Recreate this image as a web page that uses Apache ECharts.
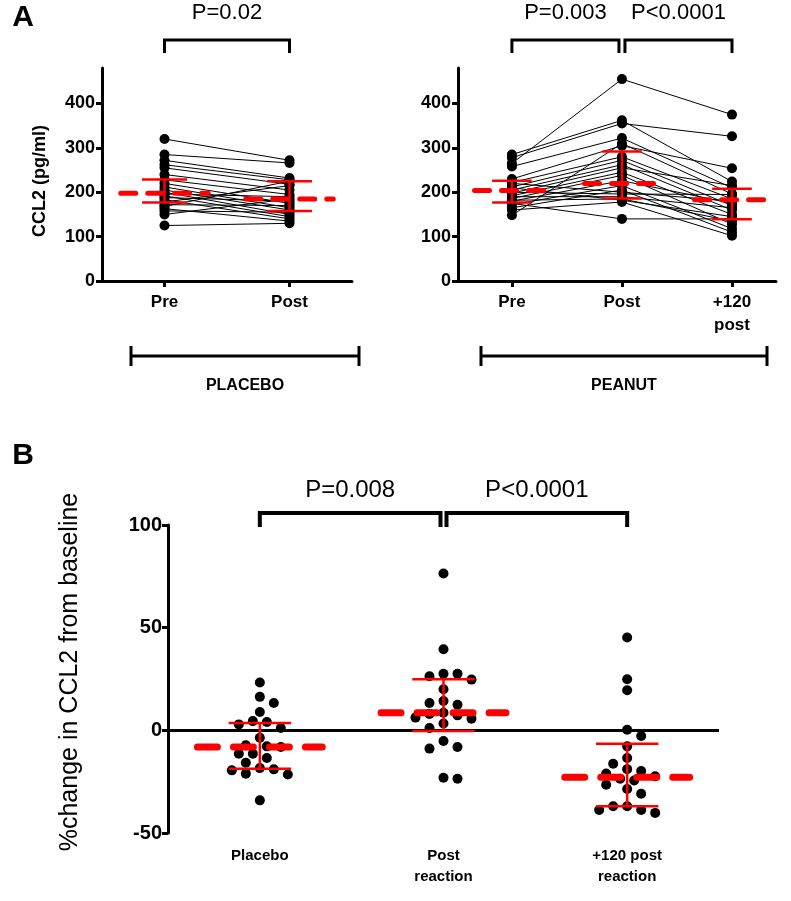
<!DOCTYPE html>
<html>
<head>
<meta charset="utf-8">
<script src="https://cdn.jsdelivr.net/npm/echarts@6/dist/echarts.min.js"></script>
<style>
  html, body { margin: 0; padding: 0; background: #fff; }
  #main { width: 791px; height: 901px; }
</style>
</head>
<body>
<div id="main"></div>
<script>
const placeboCats = ['Pre', 'Post'];
const peanutCats = ['Pre', 'Post', '+120\npost'];
const changeCats = ['Placebo', 'Post\nreaction', '+120 post\nreaction'];
const ticksA = [0, 100, 200, 300, 400];

// CCL2 (pg/ml), one entry per subject
const placeboPre = [320, 285, 272, 262, 255, 240, 228, 220, 212, 205, 200, 196, 192, 188, 183, 178, 172, 168, 163, 158, 150, 125];
const placeboPost = [272, 266, 232, 228, 218, 205, 195, 175, 165, 160, 150, 190, 145, 180, 140, 215, 170, 225, 135, 155, 185, 130];

const peanutPre = [265, 285, 278, 258, 148, 230, 222, 212, 205, 198, 192, 186, 180, 172, 165, 200, 190, 182, 210, 175, 220, 160];
const peanutPost = [455, 362, 355, 322, 310, 305, 280, 272, 262, 255, 245, 238, 226, 215, 205, 196, 190, 185, 182, 140, 200, 178];
const peanut120 = [375, 224, 326, 210, 196, 254, 185, 170, 160, 215, 150, 128, 175, 118, 110, 195, 165, 135, 145, 140, 180, 102];

// median and interquartile range per time point
const placeboMedian = [198, 185];
const placeboQ1 = [177, 158];
const placeboQ3 = [229, 225];
const peanutMedian = [204, 220, 183];
const peanutQ1 = [177, 186, 139];
const peanutQ3 = [226, 292, 208];

// % change in CCL2 from baseline
const changePlacebo = [23.3, 16.3, 13.3, 8.9, 4.1, 4.5, 2.9, 1.1, -3.6, -8.1, -7.8, -7.3, -11.4, -11.4, -13.5, -15.8, -19.0, -21.1, -21.5, -19.5, -18.4, -34.1];
const changePost = [76.4, 39.5, 26.3, 27.6, 27.6, 24.7, 20.0, 13.3, 12.5, 14.3, 7.3, 5.7, 8.6, 6.2, 3.3, 1.1, -5.2, -8.1, -8.9, -23.6, -23.1, 8.0];
const change120 = [45.2, 24.9, 19.5, 0.3, -2.8, -7.8, -13.5, -16.3, -18.9, -19.8, -24.4, -23.6, -22.4, -26.5, -28.6, -30.9, -37.0, -38.8, -40.2, -38.8, -37.0, -21.0];
const changeMedian = [-8.1, 8.6, -22.8];
const changeLow = [-18.7, -0.3, -37.0];
const changeHigh = [3.6, 24.9, -6.5];

// [label, from, to]
const pPlacebo = [['P=0.02', 0, 1]];
const pPeanut = [['P=0.003', 0, 1], ['P<0.0001', 1, 2]];
const pChange = [['P=0.008', 0, 1], ['P<0.0001', 1, 2]];

const FONT = 'Liberation Sans';
const grids = [
  { left: 102, top: 68, width: 250, height: 213 },
  { left: 458, top: 68, width: 318, height: 213 },
  { left: 168, top: 525, width: 551, height: 308 }
];
const xRange = [[-0.5, 1.5], [-0.49, 2.4], [-0.5, 2.5]];
const yRange = [[0, 480], [0, 480], [-50, 100]];

const axisLine = { show: true, lineStyle: { color: '#000', width: 3 } };
const axisTick = { show: true, length: 6, lineStyle: { color: '#000', width: 3 } };

function xAxis(i, cats, extra) {
  return Object.assign({
    type: 'value', gridIndex: i, min: xRange[i][0], max: xRange[i][1],
    splitLine: { show: false },
    axisLine: axisLine,
    axisTick: Object.assign({ customValues: cats.map((c, k) => k) }, axisTick),
    axisLabel: {
      customValues: cats.map((c, k) => k),
      formatter: v => cats[Math.round(v)],
      color: '#000', fontFamily: FONT, fontWeight: 'bold', fontSize: 17, lineHeight: 23, margin: 10
    }
  }, extra || {});
}

function yAxis(i, extra) {
  return Object.assign({
    type: 'value', gridIndex: i, min: yRange[i][0], max: yRange[i][1],
    splitLine: { show: false },
    axisLine: Object.assign({ onZero: false }, axisLine),
    axisTick: axisTick,
    axisLabel: { color: '#000', fontFamily: FONT, fontWeight: 'bold', fontSize: 20, margin: 6 }
  }, extra || {});
}

function pairedSeries(axis, cols) {
  return cols[0].map((v, s) => ({
    type: 'line', xAxisIndex: axis, yAxisIndex: axis, silent: true, z: 2,
    data: cols.map((col, k) => [k, col[s]]),
    symbol: 'circle', symbolSize: 10,
    itemStyle: { color: '#000', opacity: 1 },
    lineStyle: { color: '#000', width: 1 }
  }));
}

function summary(axis, med, lo, hi, o) {
  return {
    type: 'custom', xAxisIndex: axis, yAxisIndex: axis, z: 10, silent: true, clip: false,
    data: med.map((m, i) => [i, m, lo[i], hi[i]]),
    renderItem(params, api) {
      const x = api.value(0);
      const c = (dx, v) => api.coord([x + dx, v]);
      const seg = (a, b, w, dash) => ({
        type: 'line',
        shape: { x1: a[0], y1: a[1], x2: b[0], y2: b[1] },
        style: { stroke: '#ff0000', lineWidth: w, lineDash: dash || null, lineCap: dash ? 'round' : 'butt' }
      });
      const lo = api.value(2), hi = api.value(3), m = api.value(1);
      return {
        type: 'group', children: [
          seg(c(0, lo), c(0, hi), o.bar),
          seg(c(-o.cap, lo), c(o.cap, lo), o.bar),
          seg(c(-o.cap, hi), c(o.cap, hi), o.bar),
          seg(c(-o.half, m), c(o.half, m), o.width, o.dash)
        ]
      };
    }
  };
}

function brackets(axis, list, o) {
  const used = {};
  list.forEach(b => { used[b[1]] = (used[b[1]] || 0) + 1; used[b[2]] = (used[b[2]] || 0) + 1; });
  const ymax = yRange[axis][1];
  return {
    type: 'custom', xAxisIndex: axis, yAxisIndex: axis, silent: true, clip: false,
    data: list.map(b => [b[1], b[2]]),
    renderItem(params, api) {
      const b = list[params.dataIndex];
      const top = api.coord([b[1], ymax])[1];
      let x1 = api.coord([b[1], ymax])[0];
      let x2 = api.coord([b[2], ymax])[0];
      if (used[b[1]] > 1) x1 += 3;
      if (used[b[2]] > 1) x2 -= 3;
      const yb = top - o.rise, yd = top - o.drop;
      return {
        type: 'group', children: [
          { type: 'polyline', shape: { points: [[x1, yd], [x1, yb], [x2, yb], [x2, yd]] },
            style: { stroke: '#000', lineWidth: o.lw, fill: null } },
          { type: 'text', style: { text: b[0], x: (x1 + x2) / 2, y: top - o.textRise,
            align: 'center', verticalAlign: 'middle', fontSize: o.fs, fontFamily: FONT, fill: '#000' } }
        ]
      };
    }
  };
}

// simple beeswarm: spread points sideways so that dots do not overlap
function swarm(values, center, axis) {
  const g = grids[axis];
  const yPx = g.height / (yRange[axis][1] - yRange[axis][0]);
  const xPx = g.width / (xRange[axis][1] - xRange[axis][0]);
  const step = 7, minDist = 10.5;
  const placed = [];
  const out = [];
  let flip = 1;
  const order = values.map((v, i) => i).sort((a, b) => values[b] - values[a]);
  order.forEach(i => {
    const y = values[i] * yPx;
    const free = dx => placed.every(p => Math.hypot(p[0] - dx, p[1] - y) >= minDist);
    for (let k = 0; k < 60; k++) {
      let dx = null;
      if (k === 0) {
        if (free(0)) dx = 0;
      } else if (free(flip * k * step)) {
        dx = flip * k * step;
      } else if (free(-flip * k * step)) {
        dx = -flip * k * step;
      }
      if (dx !== null) {
        if (dx !== 0) flip = -flip;
        placed.push([dx, y]);
        out.push([center + dx / xPx, values[i]]);
        break;
      }
    }
  });
  return out;
}

const myChart = echarts.init(document.getElementById('main'));

const tickLabelA = { customValues: ticksA, color: '#000', fontFamily: FONT, fontWeight: 'bold', fontSize: 18, margin: 7 };

const option = {
  animation: false,
  backgroundColor: '#fff',
  grid: grids,
  xAxis: [
    xAxis(0, placeboCats),
    xAxis(1, peanutCats),
    xAxis(2, changeCats, {
      axisLine: { show: false },
      axisTick: { show: false },
      axisLabel: {
        customValues: [0, 1, 2],
        formatter: v => changeCats[Math.round(v)],
        color: '#000', fontFamily: FONT, fontWeight: 'bold', fontSize: 15, lineHeight: 21, margin: 12
      }
    })
  ],
  yAxis: [
    yAxis(0, {
      axisTick: Object.assign({ customValues: ticksA }, axisTick),
      axisLabel: tickLabelA
    }),
    yAxis(1, {
      axisTick: Object.assign({ customValues: ticksA }, axisTick),
      axisLabel: tickLabelA
    }),
    yAxis(2, { interval: 50 })
  ],
  series: [
    ...pairedSeries(0, [placeboPre, placeboPost]),
    ...pairedSeries(1, [peanutPre, peanutPost, peanut120]),
    {
      type: 'scatter', xAxisIndex: 2, yAxisIndex: 2, silent: true, z: 3,
      symbolSize: 10, itemStyle: { color: '#000', opacity: 1 },
      data: [].concat(swarm(changePlacebo, 0, 2), swarm(changePost, 1, 2), swarm(change120, 2, 2)),
      markLine: {
        silent: true, symbol: 'none', label: { show: false }, z: 2,
        lineStyle: { color: '#000', width: 3, type: 'solid' },
        data: [{ yAxis: 0 }]
      }
    },
    summary(0, placeboMedian, placeboQ1, placeboQ3, { cap: 0.18, half: 0.35, bar: 2.5, width: 5, dash: [15, 12] }),
    summary(1, peanutMedian, peanutQ1, peanutQ3, { cap: 0.18, half: 0.34, bar: 2.5, width: 5, dash: [15, 12] }),
    summary(2, changeMedian, changeLow, changeHigh, { cap: 0.17, half: 0.34, bar: 2.5, width: 7, dash: [20, 16] }),
    brackets(0, pPlacebo, { rise: 28, drop: 15, textRise: 55, lw: 3, fs: 22 }),
    brackets(1, pPeanut, { rise: 28, drop: 15, textRise: 55, lw: 3, fs: 22 }),
    brackets(2, pChange, { rise: 12, drop: -2, textRise: 35, lw: 4, fs: 24 })
  ],
  graphic: [
    { type: 'text', x: 23, y: 18, style: { text: 'A', fontSize: 30, fontWeight: 'bold', fontFamily: FONT, fill: '#000', align: 'center', verticalAlign: 'middle' } },
    { type: 'text', x: 23, y: 456, style: { text: 'B', fontSize: 30, fontWeight: 'bold', fontFamily: FONT, fill: '#000', align: 'center', verticalAlign: 'middle' } },
    { type: 'text', x: 40, y: 181, rotation: Math.PI / 2, style: { text: 'CCL2 (pg/ml)', fontSize: 18, fontWeight: 'bold', fontFamily: FONT, fill: '#000', align: 'center', verticalAlign: 'middle' } },
    { type: 'text', x: 70, y: 672, rotation: Math.PI / 2, style: { text: '%change in CCL2 from baseline', fontSize: 25, fontFamily: FONT, fill: '#000', align: 'center', verticalAlign: 'middle' } },
    { type: 'polyline', shape: { points: [[131, 346], [131, 366]] }, style: { stroke: '#000', lineWidth: 3 } },
    { type: 'polyline', shape: { points: [[131, 356], [359, 356]] }, style: { stroke: '#000', lineWidth: 3 } },
    { type: 'polyline', shape: { points: [[359, 346], [359, 366]] }, style: { stroke: '#000', lineWidth: 3 } },
    { type: 'text', x: 245, y: 386, style: { text: 'PLACEBO', fontSize: 16, fontWeight: 'bold', fontFamily: FONT, fill: '#000', align: 'center', verticalAlign: 'middle' } },
    { type: 'polyline', shape: { points: [[481, 346], [481, 366]] }, style: { stroke: '#000', lineWidth: 3 } },
    { type: 'polyline', shape: { points: [[481, 356], [767, 356]] }, style: { stroke: '#000', lineWidth: 3 } },
    { type: 'polyline', shape: { points: [[767, 346], [767, 366]] }, style: { stroke: '#000', lineWidth: 3 } },
    { type: 'text', x: 624, y: 386, style: { text: 'PEANUT', fontSize: 16, fontWeight: 'bold', fontFamily: FONT, fill: '#000', align: 'center', verticalAlign: 'middle' } }
  ]
};

myChart.setOption(option);
</script>
</body>
</html>
